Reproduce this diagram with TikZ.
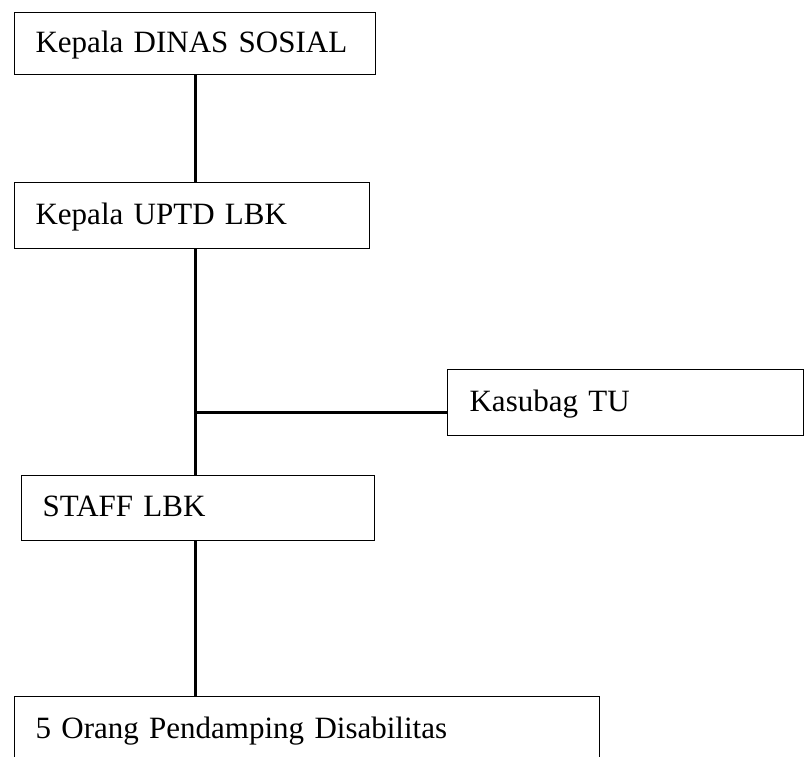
\documentclass[tikz,border=0pt]{standalone}
\usepackage{fontspec}
\setmainfont{Liberation Serif}
\usepackage{tikz}
\usetikzlibrary{positioning,calc}

\begin{document}
\begin{tikzpicture}[x=1pt, y=-1pt,
  unit/.style = {rectangle, draw, line width=1.2pt, anchor=north west,
                 inner xsep=21pt, inner ysep=0pt, align=left,
                 text height=20.5pt, text depth=3pt,
                 font=\fontsize{31}{37}\selectfont},
  link/.style = {line width=3pt}
]
\clip (0,0) rectangle (804,756);

% -- Heads --
\node[unit, minimum width=361pt, minimum height=62pt, text width=319pt]
     (dinas) at (14,12) {Kepala DINAS SOSIAL};
\node[unit, minimum width=355pt, minimum height=66pt, text width=313pt]
     (uptd) at (14,182) {Kepala UPTD LBK};

% -- Side office --
\node[unit, minimum width=356pt, minimum height=66pt, text width=312pt,
      inner xsep=22pt]
     (kasubag) at (447,369) {Kasubag TU};

% -- Staff --
\node[unit, minimum width=353pt, minimum height=65pt, text width=311pt]
     (staff) at (21,475) {STAFF LBK};
\node[unit, minimum width=585pt, minimum height=66pt, text width=543pt]
     (pendamping) at (14,696) {5 Orang Pendamping Disabilitas};

% -- Lines --
\coordinate (branch) at ($(dinas.south)+(0,337)$);
\draw[link] (dinas.south) -- (dinas.south |- uptd.north);
\draw[link] (dinas.south |- uptd.south) -- (dinas.south |- staff.north);
\draw[link] (branch) -- (branch -| kasubag.west);
\draw[link] (dinas.south |- staff.south) -- (dinas.south |- pendamping.north);

\end{tikzpicture}
\end{document}
